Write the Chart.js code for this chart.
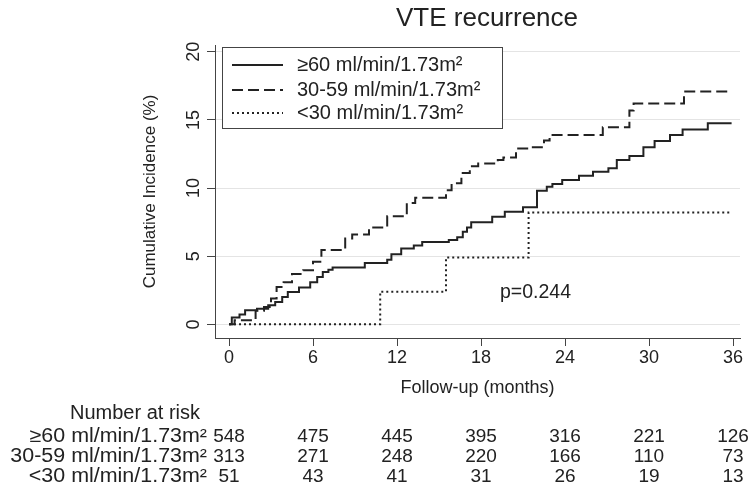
<!DOCTYPE html>
<html>
<head>
<meta charset="utf-8">
<script src="https://cdn.jsdelivr.net/npm/chart.js@4"></script>
<style>
  html, body { margin: 0; padding: 0; background: #ffffff; }
  #wrap { width: 752px; height: 487px; }
</style>
</head>
<body>
<div id="wrap"><canvas id="chart" width="752" height="487"></canvas></div>
<script>
// tick positions / number at risk columns (months)
const monthTicks = [0, 6, 12, 18, 24, 30, 36];
const incidenceTicks = [0, 5, 10, 15, 20];

const groupNames = ['≥60 ml/min/1.73m²', '30-59 ml/min/1.73m²', '<30 ml/min/1.73m²'];

// cumulative incidence step curves (value after each step)
const egfr60Months = [0, 0.2, 0.75, 1.15, 2.0, 2.8, 3.3, 3.8, 4.2, 5.0, 5.8, 6.3, 6.7, 7.1, 7.4, 9.7, 11.3, 11.6, 12.3, 13.2,
  13.8, 15.7, 16.3, 16.7, 17.0, 17.3, 18.8, 19.7, 21.0, 22.0, 22.7, 23.1, 23.8, 25.0, 26.0, 27.1, 27.7, 28.6, 29.6, 30.4,
  31.5, 32.4, 34.2, 35.9];
const egfr60Values = [0, 0.5, 0.73, 1.03, 1.15, 1.4, 1.64, 2.0, 2.37, 2.7, 3.1, 3.48, 3.85, 4.0, 4.17, 4.5, 4.75, 5.15, 5.56, 5.78,
  6.05, 6.2, 6.4, 6.8, 7.1, 7.5, 7.9, 8.26, 8.6, 9.8, 10.1, 10.3, 10.6, 10.9, 11.2, 11.45, 12.06, 12.35, 13.0, 13.45,
  13.9, 14.3, 14.75, 14.75];

const egfr3059Months = [0, 0.4, 1.9, 2.5, 3.0, 3.4, 3.9, 4.5, 5.3, 6.0, 6.6, 8.3, 8.8, 10.0, 11.3, 12.7, 13.3, 15.5, 15.9, 16.6,
  17.2, 17.8, 19.2, 19.6, 20.5, 21.3, 22.5, 22.9, 26.7, 28.6, 28.9, 32.5, 35.9];
const egfr3059Values = [0, 0.3, 1.0, 1.27, 1.9, 2.75, 3.1, 3.7, 3.97, 4.6, 5.45, 6.3, 6.6, 7.1, 7.94, 8.9, 9.3, 9.85, 10.35, 11.1,
  11.6, 11.8, 12.06, 12.25, 12.9, 13.0, 13.5, 13.9, 14.46, 15.7, 16.2, 17.08, 17.08];

const egfr30Months = [0, 10.8, 15.5, 21.4, 35.8];
const egfr30Values = [0, 2.4, 4.9, 8.2, 8.2];

// number at risk
const atRisk60 = [548, 475, 445, 395, 316, 221, 126];
const atRisk3059 = [313, 271, 248, 220, 166, 110, 73];
const atRisk30 = [51, 43, 41, 31, 26, 19, 13];

const FONT = '"Liberation Sans", Arial, sans-serif';
const INK = '#222222';
const AXIS = '#444444';

const dashStyles = [[], [11, 5], [2, 3]];

function toPoints(xs, ys) {
  return xs.map((x, i) => ({ x, y: ys[i] }));
}

// right-aligned text, a bit wider than the font gives (the original is stretched)
function fillWideRight(ctx, text, right, y, stretch) {
  ctx.save();
  ctx.translate(right, y);
  ctx.scale(stretch, 1);
  ctx.textAlign = 'right';
  ctx.fillText(text, 0, 0);
  ctx.restore();
}

const decorPlugin = {
  id: 'vteDecor',
  afterDraw(chart) {
    const ctx = chart.ctx;
    const xScale = chart.scales.x;
    ctx.save();
    ctx.fillStyle = INK;

    // title
    ctx.font = `26px ${FONT}`;
    ctx.textAlign = 'center';
    ctx.textBaseline = 'middle';
    ctx.fillText('VTE recurrence', 487, 19);

    // legend box
    ctx.fillStyle = '#ffffff';
    ctx.fillRect(222, 47, 280, 81);
    ctx.strokeStyle = AXIS;
    ctx.lineWidth = 1;
    ctx.strokeRect(222.5, 47.5, 280, 81);
    const rowsY = [65, 90, 113];
    groupNames.forEach((name, i) => {
      ctx.save();
      ctx.strokeStyle = INK;
      ctx.lineWidth = 2;
      ctx.setLineDash(dashStyles[i]);
      ctx.beginPath();
      ctx.moveTo(232, rowsY[i]);
      ctx.lineTo(283, rowsY[i]);
      ctx.stroke();
      ctx.restore();
      ctx.fillStyle = INK;
      ctx.font = `20px ${FONT}`;
      ctx.textAlign = 'left';
      ctx.textBaseline = 'middle';
      ctx.fillText(name, 297, rowsY[i]);
    });

    // p value
    ctx.font = `19.5px ${FONT}`;
    ctx.textAlign = 'left';
    ctx.fillText('p=0.244', 500, 293);

    // number at risk table
    ctx.font = `20px ${FONT}`;
    ctx.textAlign = 'left';
    ctx.fillText('Number at risk', 70, 413);
    const tableRows = [atRisk60, atRisk3059, atRisk30];
    const tableY = [437, 457, 477];
    tableRows.forEach((row, r) => {
      ctx.font = `19.5px ${FONT}`;
      fillWideRight(ctx, groupNames[r], 207, tableY[r], 1.1);
      ctx.font = `19px ${FONT}`;
      ctx.textAlign = 'center';
      row.forEach((n, c) => {
        ctx.fillText(String(n), xScale.getPixelForValue(monthTicks[c]), tableY[r]);
      });
    });
    ctx.restore();
  },
};

new Chart(document.getElementById('chart'), {
  type: 'line',
  data: {
    datasets: [
      { label: groupNames[0], data: toPoints(egfr60Months, egfr60Values), borderDash: dashStyles[0] },
      { label: groupNames[1], data: toPoints(egfr3059Months, egfr3059Values), borderDash: dashStyles[1] },
      { label: groupNames[2], data: toPoints(egfr30Months, egfr30Values), borderDash: dashStyles[2] },
    ],
  },
  options: {
    responsive: false,
    animation: false,
    devicePixelRatio: 1,
    layout: { padding: { left: 140, right: 12, top: 45, bottom: 88 } },
    elements: {
      line: { stepped: 'before', borderColor: INK, borderWidth: 2, tension: 0, fill: false },
      point: { radius: 0, hoverRadius: 0 },
    },
    plugins: {
      legend: { display: false },
      tooltip: { enabled: false },
    },
    scales: {
      x: {
        type: 'linear',
        min: -1,
        max: 36.5,
        afterBuildTicks(scale) { scale.ticks = monthTicks.map((v) => ({ value: v })); },
        afterFit(scale) { scale.height = 61; scale.paddingLeft = 0; scale.paddingRight = 0; },
        ticks: { color: INK, font: { family: FONT, size: 18 }, padding: 1, maxRotation: 0, autoSkip: false },
        grid: { drawOnChartArea: false, drawTicks: true, tickLength: 8, tickColor: AXIS },
        border: { display: true, color: AXIS, width: 1 },
        title: { display: true, text: 'Follow-up (months)', color: INK, font: { family: FONT, size: 18 }, padding: 0 },
      },
      y: {
        type: 'linear',
        min: -1,
        max: 20.5,
        afterBuildTicks(scale) { scale.ticks = incidenceTicks.map((v) => ({ value: v })); },
        afterFit(scale) { scale.width = 75; scale.paddingTop = 0; scale.paddingBottom = 0; },
        ticks: { color: INK, font: { family: FONT, size: 18 }, padding: 3, minRotation: 90, maxRotation: 90, crossAlign: 'center' },
        grid: { color: '#e4e4e4', lineWidth: 1, drawTicks: true, tickLength: 8, tickColor: AXIS },
        border: { display: true, color: AXIS, width: 1 },
        title: { display: true, text: 'Cumulative Incidence (%)', color: INK, font: { family: FONT, size: 17 }, padding: 0 },
      },
    },
  },
  plugins: [decorPlugin],
});
</script>
</body>
</html>
